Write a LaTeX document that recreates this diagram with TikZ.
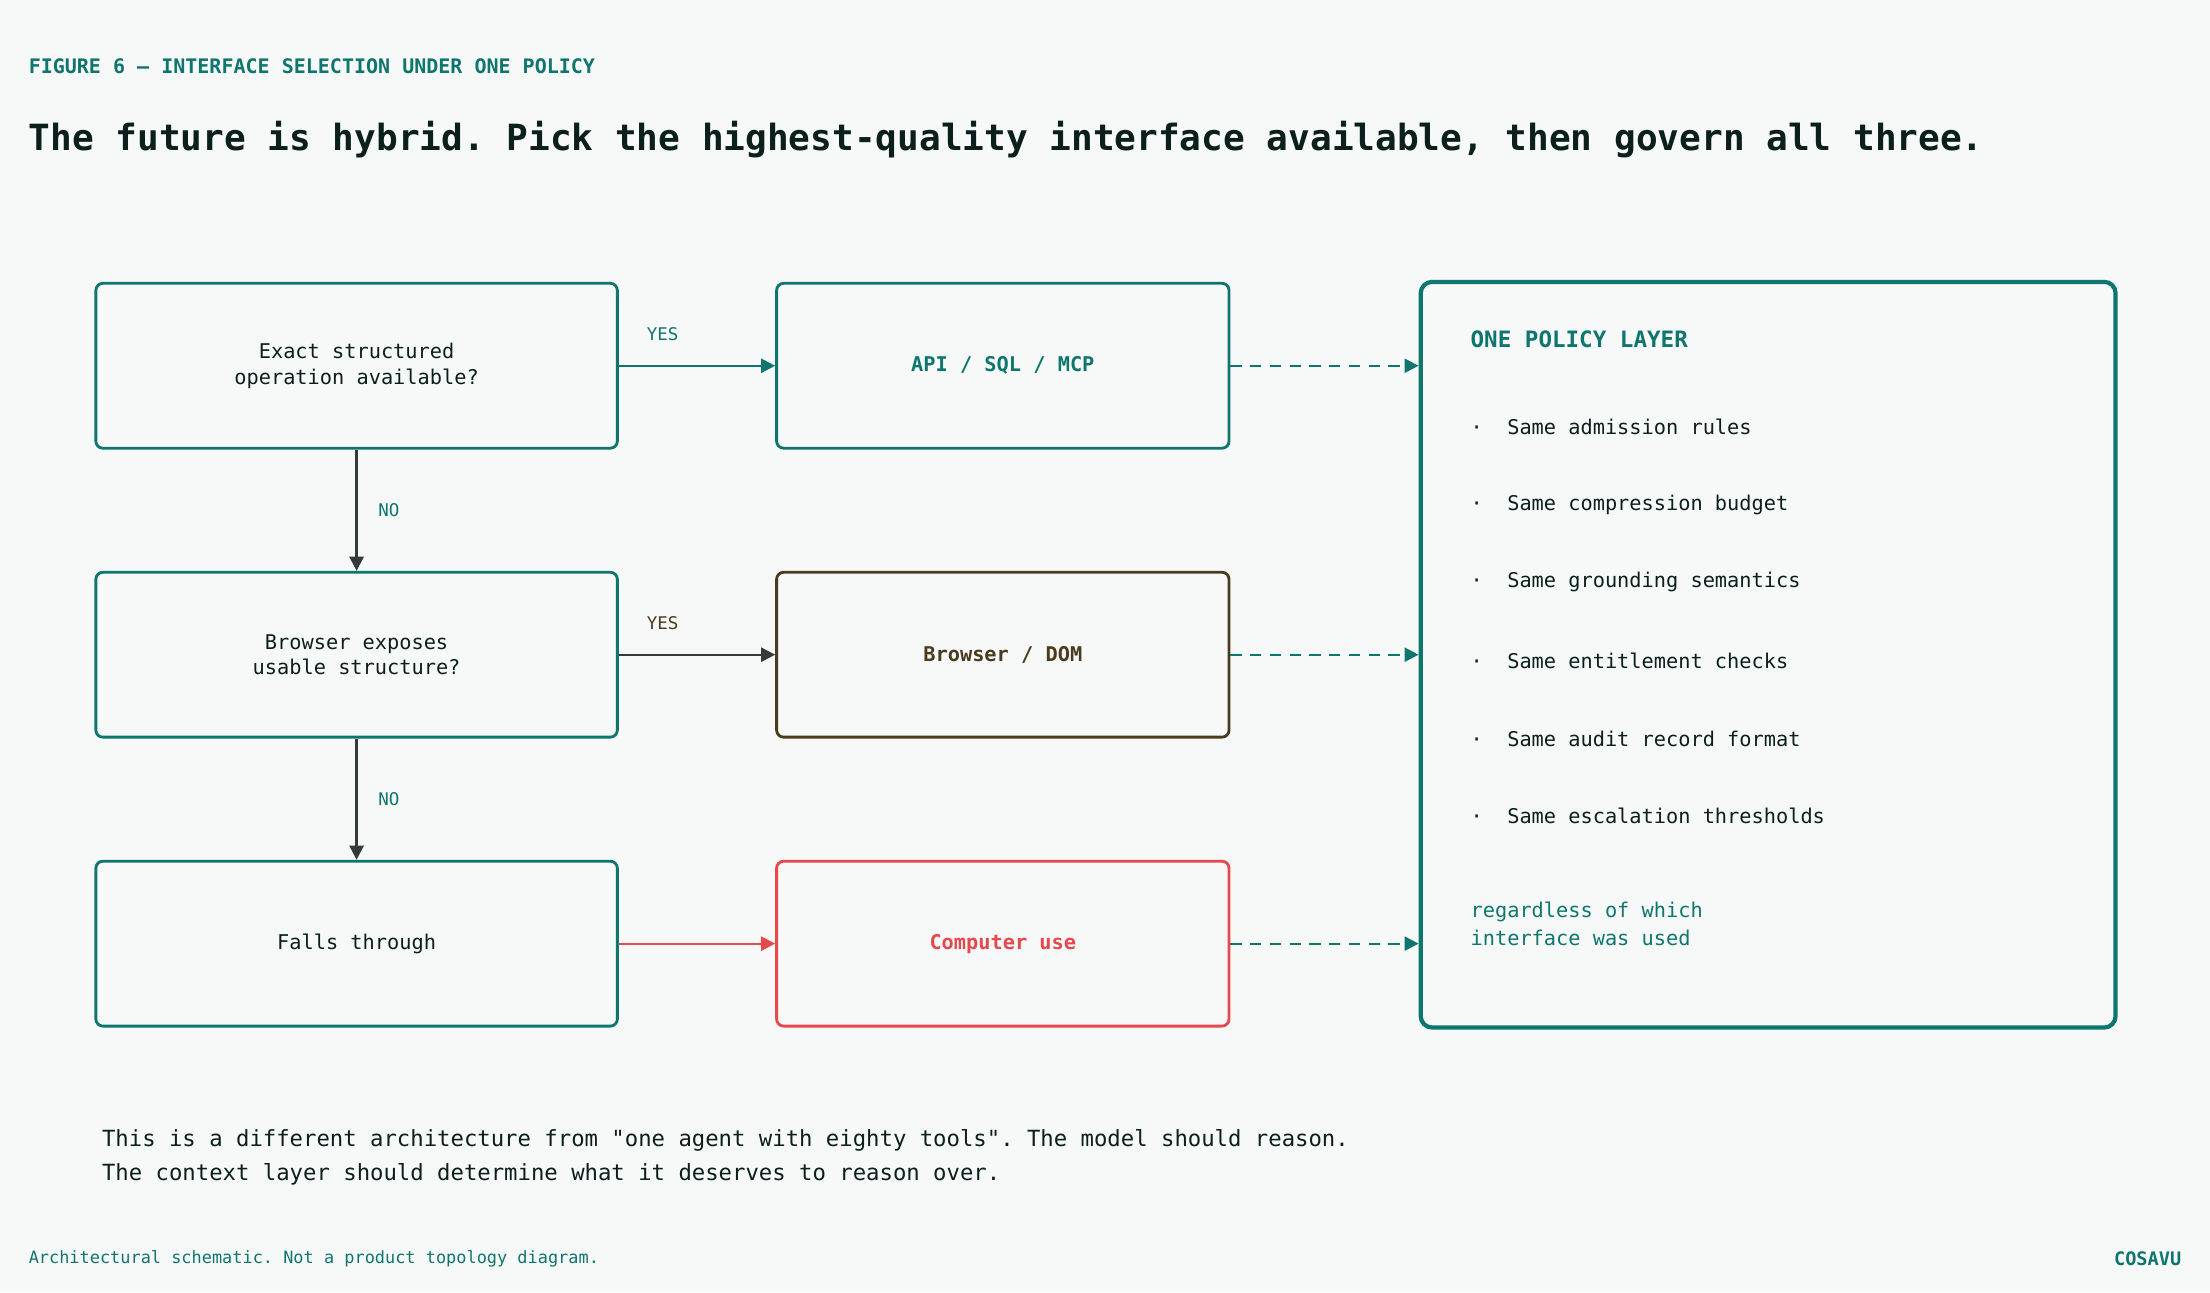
\documentclass[tikz,border=0pt]{standalone}
\usepackage{fontspec}
\setmonofont{DejaVu Sans Mono}
\usetikzlibrary{positioning,arrows.meta}
\definecolor{bg}{HTML}{F7F9F8}
\definecolor{teal}{HTML}{0F766E}
\definecolor{ink}{HTML}{0B1F1C}
\definecolor{brown}{HTML}{4A3A1E}
\definecolor{alert}{HTML}{E5484D}
\definecolor{grey}{HTML}{333B38}
\tikzset{
  query/.style={draw=teal, line width=1pt, rounded corners=2.5pt, fill=bg,
    minimum width=185pt, minimum height=58.5pt, align=center, text=ink,
    font=\ttfamily\fontsize{7.2}{9}\selectfont},
  iface/.style={query, minimum width=160.5pt, font=\ttfamily\bfseries\fontsize{7.2}{9}\selectfont},
  flow/.style={line width=0.8pt, -{Triangle[length=5pt,width=5pt]}},
  tie/.style={flow, teal, dashed, dash pattern=on 4pt off 3pt},
  tag/.style={font=\ttfamily\fontsize{6.2}{7}\selectfont},
  plain/.style={anchor=west, inner sep=0pt},
  bullet/.style={plain, text=ink, font=\ttfamily\fontsize{7.2}{9}\selectfont},
}
\begin{document}
\begin{tikzpicture}[x=0.5pt,y=-0.5pt]
\fill[bg] (0,0) rectangle (1568,917);
\useasboundingbox (0,0) rectangle (1568,917);

% heading
\node[plain, text=teal, font=\ttfamily\bfseries\fontsize{7.1}{9}\selectfont] (fig) at (20,47) {FIGURE 6 — INTERFACE SELECTION UNDER ONE POLICY};
\node[plain, text=ink, font=\ttfamily\bfseries\fontsize{12.8}{15}\selectfont] (title) at (20,99) {The future is hybrid. Pick the highest-quality interface available, then govern all three.};

% decision column
\node[query] (q1) at (253,259.5) {Exact structured\\operation available?};
\node[query] (q2) at (253,464.5) {Browser exposes\\usable structure?};
\node[query] (q3) at (253,669.5) {Falls through};

% interfaces
\node[iface, text=teal] (api) at (711.5,259.5) {API / SQL / MCP};
\node[iface, draw=brown, text=brown] (dom) at (711.5,464.5) {Browser / DOM};
\node[iface, draw=alert, text=alert] (cu) at (711.5,669.5) {Computer use};

% policy layer
\node[draw=teal, line width=1.5pt, rounded corners=4pt, fill=bg,
  minimum width=246.5pt, minimum height=264.5pt] (pol) at (1254.5,464.5) {};
\node[plain, text=teal, font=\ttfamily\bfseries\fontsize{8}{10}\selectfont] (polt) at (1043,241) {ONE POLICY LAYER};
\foreach \y/\t in {303/admission rules, 358/compression budget, 413/grounding semantics,
  469/entitlement checks, 524/audit record format, 579/escalation thresholds}
  \node[bullet] at (1043,\y) {·~~Same \t};
\node[plain, align=left, text=teal, font=\ttfamily\fontsize{7.2}{9.6}\selectfont] (poln) at (1043,655.5) {regardless of which\\interface was used};

% connectors
\draw[flow, teal] (q1) -- node[tag, text=teal, above=5pt, pos=0.28] {YES} (api);
\draw[flow, grey] (q2) -- node[tag, text=brown, above=5pt, pos=0.28] {YES} (dom);
\draw[flow, alert] (q3) -- (cu);
\draw[flow, grey] (q1) -- node[tag, text=teal, right=4pt] {NO} (q2);
\draw[flow, grey] (q2) -- node[tag, text=teal, right=4pt] {NO} (q3);
\draw[tie] (api.east) -- (api.east -| pol.west);
\draw[tie] (dom.east) -- (dom.east -| pol.west);
\draw[tie] (cu.east) -- (cu.east -| pol.west);

% closing text
\node[plain, align=left, text=ink, font=\ttfamily\fontsize{7.9}{12}\selectfont] (note) at (72,821) {This is a different architecture from "one agent with eighty tools". The model should reason.\\The context layer should determine what it deserves to reason over.};
\node[plain, text=teal, font=\ttfamily\fontsize{6}{7}\selectfont] (foot) at (20,893) {Architectural schematic. Not a product topology diagram.};
\node[plain, anchor=east, text=teal, font=\ttfamily\bfseries\fontsize{6.6}{8}\selectfont] (brand) at (1548,893) {COSAVU};
\end{tikzpicture}
\end{document}
